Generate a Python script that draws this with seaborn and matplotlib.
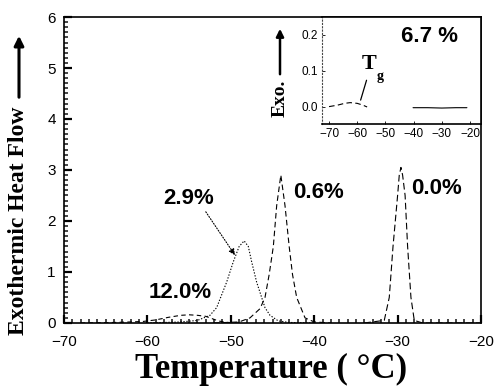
import matplotlib
matplotlib.use("Agg")
import matplotlib.pyplot as plt
import seaborn as sns
import numpy as np
from matplotlib.ticker import MultipleLocator

# ---- data ----
x_12 = [-68, -64, -62, -60.5, -59, -57.5, -56, -55, -54, -53, -52.5, -51.5, -50.5, -49]
y_12 = [0, 0.01, 0.02, 0.03, 0.06, 0.11, 0.15, 0.16, 0.15, 0.13, 0.10, 0.04, 0.01, 0]

x_29 = [-60, -56, -54, -52.5, -51.7, -50.5, -49.7, -49.0, -48.4, -47.9, -47.5, -46.9, -45.9, -45.3, -44.3, -43, -40]
y_29 = [0, 0.02, 0.05, 0.15, 0.30, 0.80, 1.20, 1.50, 1.61, 1.50, 1.20, 0.80, 0.30, 0.15, 0.04, 0.01, 0]

x_06 = [-52, -49, -47.7, -46.5, -45.9, -45.4, -44.9, -44.5, -44.0, -43.5, -43.0, -42.6, -42.1, -41.1, -40, -38]
y_06 = [0, 0.02, 0.10, 0.28, 0.50, 0.95, 1.50, 2.30, 2.90, 2.30, 1.50, 0.95, 0.50, 0.10, 0.02, 0]

x_00 = [-34, -31.6, -31.0, -30.55, -30.0, -29.8, -29.6, -29.4, -29.1, -28.8, -28.4, -28.0, -27, -20]
y_00 = [0, 0.05, 0.5, 1.5, 2.5, 2.9, 3.05, 2.9, 2.5, 1.5, 0.5, 0.05, 0, 0]

labels_main = ["12.0%", "2.9%", "0.6%", "0.0%"]
label_x = [-56.1, -55.0, -39.5, -25.3]
label_y = [0.6, 2.45, 2.55, 2.63]

# inset (6.7 %)
xi_dash = [-70, -67, -64.5, -62.5, -60, -58, -56.5]
yi_dash = [0.001, 0.005, 0.010, 0.012, 0.010, 0.005, 0.0]
xi_solid = [-40.2, -35, -30, -25, -21.1]
yi_solid = [-0.002, -0.002, -0.003, -0.002, -0.002]

xticks_main = [-70, -60, -50, -40, -30, -20]
yticks_main = [0, 1, 2, 3, 4, 5, 6]
xticks_in = [-70, -60, -50, -40, -30, -20]
yticks_in = [0.0, 0.1, 0.2]

sns.set_theme(style="ticks")
plt.rcParams['font.family'] = ['Liberation Sans', 'DejaVu Sans']

fig = plt.figure(figsize=(5, 3.91), dpi=100)
ax = fig.add_axes([0.128, 0.174, 0.834, 0.7825])

kw = dict(color="black", lw=0.8, ax=ax, sort=False, legend=False)
sns.lineplot(x=x_12, y=y_12, linestyle=(0, (4, 3)), **kw)
sns.lineplot(x=x_29, y=y_29, linestyle=(0, (1.2, 1.5)), **kw)
sns.lineplot(x=x_06, y=y_06, linestyle=(0, (5, 3)), **kw)
sns.lineplot(x=x_00, y=y_00, linestyle=(0, (6, 3)), **kw)

ax.set_xlim(-70, -20)
ax.set_ylim(0, 6)
ax.set_xticks(xticks_main)
ax.set_yticks(yticks_main)
ax.set_xticklabels([f"\u2212{abs(v)}" for v in xticks_main])
ax.set_yticklabels([str(v) for v in yticks_main])
ax.xaxis.set_minor_locator(MultipleLocator(1))
ax.yaxis.set_minor_locator(MultipleLocator(0.1))
ax.tick_params(which="major", direction="in", length=6, width=1.6, labelsize=11,
               colors="black", top=False, right=False)
ax.tick_params(axis="x", which="major", pad=9)
ax.tick_params(axis="y", which="major", pad=6)
ax.tick_params(which="minor", direction="in", length=3, width=1.2, top=False, right=False)
for s in ax.spines.values():
    s.set_color("black")
    s.set_linewidth(1.2)
ax.set_xlabel("")
ax.set_ylabel("")

for t, lx, ly in zip(labels_main, label_x, label_y):
    ax.text(lx, ly, t, ha="center", va="center", fontsize=16, fontweight="bold",
            color="black")

ax.annotate("", xy=(-49.5, 1.33), xytext=(-53.0, 2.18),
            arrowprops=dict(arrowstyle="-|>", linestyle=(0, (1, 1.5)), lw=0.8,
                            color="black", mutation_scale=9, shrinkA=0, shrinkB=0))

# axis labels
fig.text(0.542, 0.054, "Temperature ( \u00b0C)", ha="center", va="center",
         fontsize=25, fontweight="bold", family="Liberation Serif", color="black")
fig.text(0.038, 0.435, "Exothermic Heat Flow", ha="center", va="center", rotation=90,
         fontsize=17, fontweight="bold", family="Liberation Serif", color="black")
fig.patches.append(matplotlib.patches.FancyArrowPatch(
    (0.038, 1 - 100 / 391), (0.038, 1 - 33 / 391), transform=fig.transFigure,
    arrowstyle="-|>", mutation_scale=14, lw=2.2, color="black"))

# ---- inset ----
axi = fig.add_axes([0.644, 0.683, 0.318, 0.2735])
axi.set_facecolor("white")
sns.lineplot(x=xi_dash, y=yi_dash, ax=axi, color="black", lw=0.8,
             linestyle=(0, (5, 3)), sort=False, legend=False)
sns.lineplot(x=xi_solid, y=yi_solid, ax=axi, color="black", lw=0.8,
             sort=False, legend=False)
axi.set_xlim(-72.5, -16.1)
axi.set_ylim(-0.047, 0.249)
axi.set_xticks(xticks_in)
axi.set_yticks(yticks_in)
axi.set_xticklabels([f"\u2212{abs(v)}" for v in xticks_in])
axi.set_yticklabels([f"{v:.1f}" for v in yticks_in])
axi.tick_params(direction="in", length=2, width=0.6, labelsize=8.5, pad=3,
                colors="black")
axi.set_xlabel("")
axi.set_ylabel("")
for k, s in axi.spines.items():
    s.set_color("black")
    s.set_linewidth(1.2)
axi.spines["left"].set_linestyle((0, (1, 2)))
axi.spines["left"].set_linewidth(0.8)
axi.spines["left"].set_color("#444444")

axi.plot([-58.8, -56.7], [0.019, 0.074], color="black", lw=0.9)
axi.text(-55.8, 0.12, "T", ha="center", va="center", fontsize=16, fontweight="bold",
         family="Liberation Serif", color="black")
axi.text(-51.9, 0.085, "g", ha="center", va="center", fontsize=10, fontweight="bold",
         family="Liberation Serif", color="black")
axi.text(-34.2, 0.195, "6.7 %", ha="center", va="center", fontsize=16,
         fontweight="bold", color="black")

fig.text(0.56, 1 - 98 / 391, "Exo.", ha="center", va="center", rotation=90,
         fontsize=14, fontweight="bold", family="Liberation Serif", color="black")
fig.patches.append(matplotlib.patches.FancyArrowPatch(
    (0.56, 1 - 77 / 391), (0.56, 1 - 26 / 391), transform=fig.transFigure,
    arrowstyle="-|>", mutation_scale=11, lw=1.8, color="black"))

fig.savefig("out.png", dpi=100)
